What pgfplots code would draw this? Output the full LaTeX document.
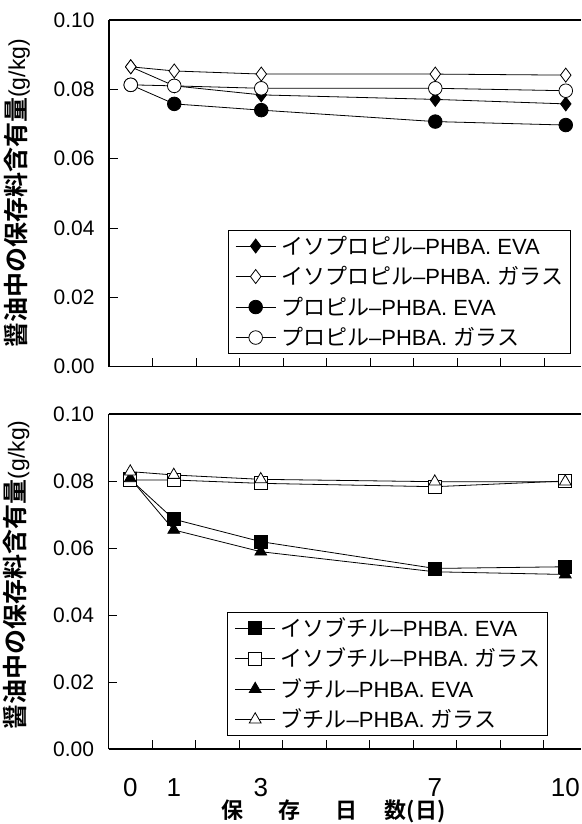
\documentclass[border=0pt]{standalone}
\usepackage{fontspec}
\setmainfont{Liberation Sans}
\newfontfamily\jp{Noto Sans CJK JP}[BoldFont=* Bold]
\usepackage{pgfplots}
\pgfplotsset{compat=1.18}

\pgfplotsset{
  base/.style={
    scale only axis, width=472pt,
    xmin=-0.5, xmax=10.35,
    axis x line=box, axis y line=left,
    axis line style={-, line width=1.2pt},
    x axis line style={-}, y axis line style={-},
    tick align=inside,
    xtick={0.5,1.5,...,9.5}, xticklabels={},
    xtick pos=bottom, ytick pos=left,
    major tick length=9pt,
    tick style={black, line width=0.6pt},
    ymin=0, ymax=0.1, ytick={0,0.02,0.04,0.06,0.08,0.1},
    scaled y ticks=false,
    /pgf/number format/assume math mode=true,
    yticklabel style={/pgf/number format/fixed, /pgf/number format/fixed zerofill, /pgf/number format/precision=2},
    yticklabel style={font=\fontsize{21}{25}\selectfont, xshift=-11pt},
    ylabel={{\jp\bfseries\fontsize{25}{28}\selectfont 醤油中の保存料含有量}{\fontsize{23}{26}\selectfont(g/kg)}},
    legend cell align=left,
    legend style={anchor=north west, draw=black, line width=0.6pt,
      inner xsep=7pt, inner ysep=3pt, column sep=5pt, row sep=5pt,
      font=\fontsize{22}{24}\selectfont,
      nodes={inner sep=0pt, text height=21pt, text depth=4.5pt}},
    every axis plot/.append style={black, line width=0.8pt, mark options={solid, line width=1.1pt}},
    legend image code/.code={\draw[mark repeat=2,mark phase=2] plot coordinates {(0pt,0pt) (20pt,0pt) (40pt,0pt)};},
  }
}

\begin{document}
\begin{tikzpicture}
\begin{axis}[base, height=346.7pt, at={(109pt,-366.7pt)}, anchor=south west,
  every axis y label/.style={at={(axis description cs:-0.195,0.5)}, rotate=90, anchor=center},
  legend style={at={(rel axis cs:0.2521,0.3943)}}]
\addplot[mark=diamond*, mark size=7pt, mark options={fill=black}] coordinates {(0,0.0865)(1,0.0810)(3,0.0784)(7,0.0771)(10,0.0758)};
\addlegendentry{{\jp イソプロピル}–PHBA. EVA}
\addplot[mark=diamond*, mark size=7pt, mark options={fill=white}] coordinates {(0,0.0865)(1,0.0853)(3,0.0844)(7,0.0844)(10,0.0841)};
\addlegendentry{{\jp イソプロピル}–PHBA. {\jp ガラス}}
\addplot[mark=*, mark size=6.8pt, mark options={fill=black}] coordinates {(0,0.0813)(1,0.0758)(3,0.0740)(7,0.0707)(10,0.0697)};
\addlegendentry{{\jp プロピル}–PHBA. EVA}
\addplot[mark=*, mark size=6.8pt, mark options={fill=white}] coordinates {(0,0.0813)(1,0.0810)(3,0.0803)(7,0.0803)(10,0.0796)};
\addlegendentry{{\jp プロピル}–PHBA. {\jp ガラス}}
\end{axis}

\begin{axis}[base, height=335pt, at={(108.5pt,-749pt)}, anchor=south west,
  every axis y label/.style={at={(axis description cs:-0.195,0.52)}, rotate=90, anchor=center},
  extra x ticks={0,1,3,7,10}, extra x tick labels={0,1,3,7,10},
  extra x tick style={major tick length=0pt, xticklabel style={font=\fontsize{26}{30}\selectfont, inner sep=0pt, yshift=-29pt}},
  xlabel={\jp\bfseries 保\hspace{35pt}存\hspace{35pt}日\hspace{27pt}数(日)},
  xlabel style={at={(axis description cs:0.477,-0.1866)}, anchor=center, inner sep=0pt, font=\fontsize{22}{24}\selectfont},
  legend style={at={(rel axis cs:0.2521,0.409)}}]
\addplot[mark=square*, mark size=6.5pt, mark options={fill=black}] coordinates {(0,0.0805)(1,0.0686)(3,0.0619)(7,0.0539)(10,0.0544)};
\addlegendentry{{\jp イソブチル}–PHBA. EVA}
\addplot[mark=square*, mark size=6.5pt, mark options={fill=white}] coordinates {(0,0.0803)(1,0.0803)(3,0.0793)(7,0.0783)(10,0.0800)};
\addlegendentry{{\jp イソブチル}–PHBA. {\jp ガラス}}
\addplot[mark=triangle*, mark size=6.8pt, mark options={fill=black}] coordinates {(0,0.0808)(1,0.0654)(3,0.0589)(7,0.0529)(10,0.0521)};
\addlegendentry{{\jp ブチル}–PHBA. EVA}
\addplot[mark=triangle*, mark size=6.8pt, mark options={fill=white}] coordinates {(0,0.0828)(1,0.0818)(3,0.0805)(7,0.0798)(10,0.0798)};
\addlegendentry{{\jp ブチル}–PHBA. {\jp ガラス}}
\end{axis}
\pgfresetboundingbox
\path[use as bounding box] (0pt,0pt) rectangle (581pt,-824pt);
\end{tikzpicture}
\end{document}
